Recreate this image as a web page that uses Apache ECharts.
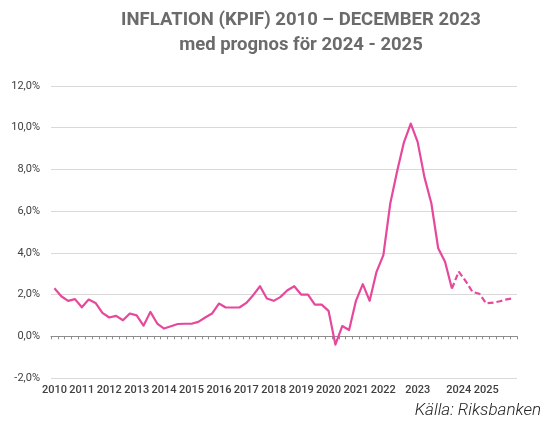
<!DOCTYPE html>
<html><head><meta charset="utf-8">
<script src="https://cdn.jsdelivr.net/npm/echarts@6/dist/echarts.min.js"></script>
<style>html,body{margin:0;padding:0;background:#fff}#c{width:542px;height:423px}</style>
</head><body><div id="c"></div>
<script>
const categories = [
  '2010','','','', '2011','','','', '2012','','','', '2013','','','',
  '2014','','','', '2015','','','', '2016','','','', '2017','','','',
  '2018','','','', '2019','','','', '2020','','','', '2021','','','',
  '2022','','','','', '2023','','','','','', '2024','','','', '2025','','','',''
];
// Utfall (solid), index 0..58
const kpifOutcome = [
  2.30,1.92,1.70,1.78,1.39,1.76,1.60,1.12,0.90,0.98,0.77,1.09,1.00,0.51,1.17,0.61,
  0.37,0.48,0.59,0.60,0.60,0.69,0.90,1.09,1.57,1.38,1.38,1.38,1.60,1.97,2.40,1.81,
  1.70,1.89,2.21,2.40,2.00,2.00,1.52,1.52,1.22,-0.40,0.49,0.30,1.70,2.50,1.70,3.09,
  3.89,6.35,7.90,9.30,10.20,9.32,7.62,6.38,4.22,3.57,2.29
];
// Prognos (dashed), starting at index 58
const forecastStart = 58;
const kpifForecast = [2.29,3.10,2.65,2.13,2.04,1.58,1.61,1.68,1.77,1.82];

const yTicks = {min:-2, max:12, interval:2};

const solidData = categories.map((_, i) => i < kpifOutcome.length ? kpifOutcome[i] : null);
const dashData = categories.map((_, i) => (i >= forecastStart && i - forecastStart < kpifForecast.length) ? kpifForecast[i - forecastStart] : null);

const pink = '#e6489c';
const chart = echarts.init(document.getElementById('c'), null, {renderer:'canvas'});
chart.setOption({
  animation:false,
  backgroundColor:'#ffffff',
  graphic:[
    {type:'text', style:{text:'INFLATION (KPIF) 2010 – DECEMBER 2023', x:301, y:20, textAlign:'center', textVerticalAlign:'middle', font:'bold 18.5px Roboto', fill:'#6b6b6b'}},
    {type:'text', style:{text:'med prognos för 2024 - 2025', x:301, y:45, textAlign:'center', textVerticalAlign:'middle', font:'bold 18.5px Roboto', fill:'#6b6b6b'}},
    {type:'text', style:{text:'Källa: Riksbanken', x:541, y:411, textAlign:'right', textVerticalAlign:'middle', font:'italic 300 17px Roboto', fill:'#222222'}}
  ],
  grid:{left:51, right:25, top:86, bottom:45, containLabel:false},
  xAxis:[
    {type:'category', data:categories, boundaryGap:true,
     axisLine:{onZero:true, lineStyle:{color:'#8c8c8c', width:1}},
     axisTick:{show:true, interval:0, length:3, lineStyle:{color:'#8c8c8c'}},
     axisLabel:{show:false}, splitLine:{show:false}},
    {type:'category', data:categories, boundaryGap:true, position:'bottom',
     axisLine:{show:false, onZero:false}, axisTick:{show:false},
     axisLabel:{show:true, interval:0, margin:7, fontFamily:'Roboto', fontSize:11, fontWeight:500, color:'#404040'},
     splitLine:{show:false}}
  ],
  yAxis:{type:'value', min:yTicks.min, max:yTicks.max, interval:yTicks.interval,
    axisLine:{show:false}, axisTick:{show:false},
    axisLabel:{margin:11, fontFamily:'Roboto', fontSize:11, color:'#404040',
      formatter:v => v.toFixed(1).replace('.', ',') + '%'},
    splitLine:{show:true, lineStyle:{color:'#d9d9d9', width:1}}},
  series:[
    {type:'line', xAxisIndex:0, data:solidData, symbol:'none', connectNulls:false,
     lineStyle:{color:pink, width:2.2, join:'round'}},
    {type:'line', xAxisIndex:0, data:dashData, symbol:'none', connectNulls:false,
     lineStyle:{color:pink, width:2.2, type:[6,3]}}
  ]
});
</script>
</body></html>
